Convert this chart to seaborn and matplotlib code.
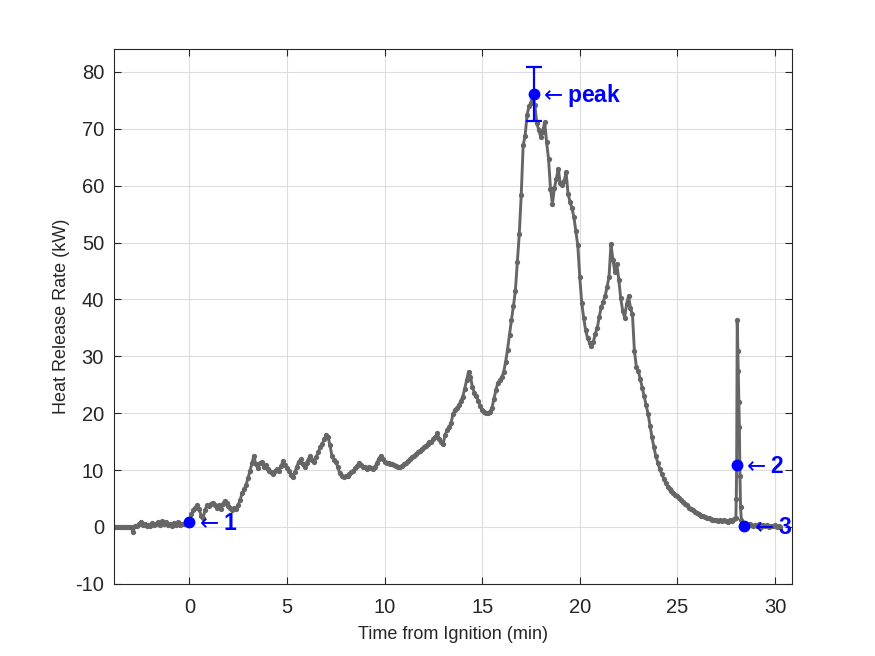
"""
Heat release rate curve from a room burn test, with the event markers
(1 = ignition, peak, 2 = late flare-up, 3 = end) drawn on top.

Saves the figure to out.png.
"""

import matplotlib

matplotlib.use("Agg")
import matplotlib.pyplot as plt
import pandas as pd
import seaborn as sns

PRE_T = [-3.88, -3.8, -3.7, -3.6, -3.5, -3.4, -3.3, -3.2, -3.1, -3.0,
         -2.9, -2.8, -2.7, -2.6, -2.5, -2.4, -2.3, -2.2, -2.1, -2.0,
         -1.9, -1.8, -1.7, -1.6, -1.5, -1.4, -1.3, -1.2, -1.1, -1.0,
         -0.9, -0.8, -0.7, -0.6, -0.5, -0.4, -0.3, -0.2, -0.1, 0.0]
PRE_HRR = [0.0, 0.0, 0.0, 0.0, 0.0, 0.0, 0.0, 0.0, 0.0, 0.0,
           -0.9, 0.2, 0.1, 0.5, 0.9, 0.3, 0.6, 0.1, 0.4, 0.2,
           0.7, 0.3, 0.5, 0.8, 0.4, 1.0, 0.6, 0.9, 0.3, 0.5,
           0.2, 0.7, 0.4, 0.8, 0.3, 0.6, 0.5, 0.8, 0.7, 0.9]

GROWTH_T = [0.1, 0.2, 0.3, 0.4, 0.5, 0.6, 0.7, 0.8, 0.9, 1.0,
            1.1, 1.2, 1.3, 1.4, 1.5, 1.6, 1.7, 1.8, 1.9, 2.0,
            2.1, 2.2, 2.3, 2.4, 2.5, 2.6, 2.7, 2.8, 2.9, 3.0,
            3.1, 3.2, 3.3, 3.4, 3.5, 3.6, 3.7, 3.8, 3.9, 4.0,
            4.1, 4.2, 4.3, 4.4, 4.5, 4.6, 4.7, 4.8, 4.9, 5.0,
            5.1, 5.2, 5.3, 5.4, 5.5, 5.6, 5.7, 5.8, 5.9, 6.0,
            6.1, 6.2, 6.3, 6.4, 6.5, 6.6, 6.7, 6.8, 6.9, 7.0,
            7.1, 7.2, 7.3, 7.4, 7.5, 7.6, 7.7, 7.8, 7.9, 8.0,
            8.1, 8.2, 8.3, 8.4, 8.5, 8.6, 8.7, 8.8, 8.9, 9.0,
            9.1, 9.2, 9.3, 9.4, 9.5, 9.6, 9.7, 9.8, 9.9, 10.0]
GROWTH_HRR = [2.2, 2.9, 3.4, 3.8, 3.1, 2.0, 1.6, 3.0, 3.9, 3.6,
              4.1, 4.3, 3.9, 3.4, 3.8, 3.1, 4.0, 4.6, 4.2, 3.6,
              3.4, 3.0, 3.3, 3.1, 3.9, 4.8, 6.0, 6.6, 7.4, 8.6,
              9.8, 11.2, 12.5, 11.0, 10.4, 11.2, 11.4, 10.6, 10.9, 10.2,
              9.8, 9.6, 9.3, 9.8, 10.2, 9.9, 10.8, 11.6, 10.9, 10.3,
              9.8, 9.2, 8.8, 9.6, 10.6, 11.5, 11.9, 11.0, 10.5, 11.3,
              12.0, 12.5, 11.8, 11.4, 12.3, 13.2, 14.0, 14.6, 15.4, 16.2,
              15.8, 14.4, 12.5, 11.8, 11.4, 10.6, 9.4, 8.9, 8.7, 8.9,
              9.0, 9.3, 9.6, 9.9, 10.3, 10.8, 11.3, 10.9, 10.6, 10.5,
              10.2, 10.6, 10.3, 10.2, 10.5, 11.2, 12.0, 12.5, 11.9, 11.4]

FLASH_T = [10.1, 10.2, 10.3, 10.4, 10.5, 10.6, 10.7, 10.8, 10.9, 11.0,
           11.1, 11.2, 11.3, 11.4, 11.5, 11.6, 11.7, 11.8, 11.9, 12.0,
           12.1, 12.2, 12.3, 12.4, 12.5, 12.6, 12.7, 12.8, 12.9, 13.0,
           13.1, 13.2, 13.3, 13.4, 13.5, 13.6, 13.7, 13.8, 13.9, 14.0,
           14.1, 14.2, 14.3, 14.4, 14.5, 14.6, 14.7, 14.8, 14.9, 15.0,
           15.1, 15.2, 15.3, 15.4, 15.5, 15.6, 15.7, 15.8, 15.9, 16.0,
           16.1, 16.2, 16.3, 16.4, 16.5, 16.6, 16.7, 16.8, 16.9, 17.0,
           17.1, 17.2, 17.3, 17.4, 17.5, 17.6, 17.7, 17.8, 17.9, 18.0,
           18.1, 18.2, 18.3, 18.4, 18.5, 18.6, 18.7, 18.8, 18.9, 19.0,
           19.1, 19.2, 19.3, 19.4, 19.5, 19.6, 19.7, 19.8, 19.9, 20.0]
FLASH_HRR = [11.3, 11.2, 11.0, 11.1, 10.9, 10.8, 10.6, 10.5, 10.8, 11.0,
             11.3, 11.6, 11.9, 12.3, 12.5, 12.8, 13.1, 13.4, 13.7, 14.0,
             14.3, 14.6, 14.9, 15.0, 15.4, 15.8, 16.5, 15.4, 15.0, 14.6,
             16.2, 17.0, 17.6, 18.2, 19.8, 20.6, 20.9, 21.4, 22.1, 22.9,
             24.2, 25.8, 27.3, 26.4, 24.6, 23.6, 23.0, 22.2, 21.3, 20.6,
             20.3, 20.1, 20.0, 20.3, 20.9, 22.5, 24.0, 25.3, 25.8, 26.3,
             27.2, 29.0, 31.2, 33.8, 36.4, 38.8, 41.5, 46.5, 51.5, 58.3,
             67.1, 68.8, 72.4, 74.0, 74.6, 75.8, 74.2, 71.0, 69.8, 68.6,
             69.5, 71.2, 67.7, 64.7, 59.5, 56.8, 59.6, 61.2, 63.0, 60.4,
             60.2, 60.8, 62.4, 58.6, 57.2, 56.0, 54.5, 52.0, 49.5, 44.0]

DECAY_T = [20.1, 20.2, 20.3, 20.4, 20.5, 20.6, 20.7, 20.8, 20.9, 21.0,
           21.1, 21.2, 21.3, 21.4, 21.5, 21.6, 21.7, 21.8, 21.9, 22.0,
           22.1, 22.2, 22.3, 22.4, 22.5, 22.6, 22.7, 22.8, 22.9, 23.0,
           23.1, 23.2, 23.3, 23.4, 23.5, 23.6, 23.7, 23.8, 23.9, 24.0,
           24.1, 24.2, 24.3, 24.4, 24.5, 24.6, 24.7, 24.8, 24.9, 25.0,
           25.1, 25.2, 25.3, 25.4, 25.5, 25.6, 25.7, 25.8, 25.9, 26.0,
           26.1, 26.2, 26.3, 26.4, 26.5, 26.6, 26.7, 26.8, 26.9, 27.0,
           27.1, 27.2, 27.3, 27.4, 27.5, 27.6, 27.7, 27.8, 27.9, 28.0]
DECAY_HRR = [39.4, 36.8, 34.6, 33.2, 32.4, 31.8, 32.6, 34.0, 35.0, 37.0,
             38.6, 39.6, 40.6, 42.2, 44.0, 49.7, 47.0, 44.8, 46.2, 43.5,
             40.2, 38.0, 36.8, 39.2, 40.6, 38.5, 37.4, 31.0, 28.2, 27.4,
             26.0, 24.5, 23.0, 21.4, 19.9, 17.8, 15.8, 14.0, 12.4, 11.3,
             10.2, 9.3, 8.5, 7.8, 7.1, 6.6, 6.3, 6.0, 5.7, 5.5,
             5.1, 4.8, 4.4, 4.1, 3.8, 3.4, 3.1, 2.9, 2.6, 2.4,
             2.2, 2.0, 1.9, 1.8, 1.6, 1.5, 1.4, 1.3, 1.2, 1.2,
             1.1, 1.3, 1.0, 1.2, 1.1, 0.9, 1.2, 1.0, 1.4, 1.6]

SPIKE_T = [28.02, 28.04, 28.07, 28.10, 28.12, 28.15, 28.18, 28.21, 28.24, 28.28]
SPIKE_HRR = [5.0, 10.9, 36.4, 31.0, 27.5, 22.0, 17.5, 9.0, 3.5, 1.2]

TAIL_T = [28.4, 28.5, 28.6, 28.7, 28.8, 28.9, 29.0, 29.1, 29.2, 29.3,
          29.4, 29.5, 29.6, 29.7, 29.8, 29.9, 30.0, 30.1, 30.2, 30.26]
TAIL_HRR = [0.3, 0.5, 0.2, 0.6, 0.3, 0.1, 0.4, 0.2, 0.5, 0.0,
            0.3, 0.1, 0.4, 0.0, 0.2, 0.1, 0.3, 0.0, 0.1, 0.0]

# --- event markers ---
EVENT_T = [0.0, 28.04, 28.43]
EVENT_HRR = [0.9, 10.9, 0.2]
EVENT_LABELS = ["1", "2", "3"]

PEAK_T = 17.65
PEAK_HRR = 76.1
PEAK_ERR = 4.8

X_TICKS = [0, 5, 10, 15, 20, 25, 30]
Y_TICKS = [-10, 0, 10, 20, 30, 40, 50, 60, 70, 80]

LINE_GRAY = "#666666"
MARK_BLUE = "#0000ff"
AXIS_DARK = "#262626"


def build_frame() -> pd.DataFrame:
    t = PRE_T + GROWTH_T + FLASH_T + DECAY_T + SPIKE_T + TAIL_T
    hrr = PRE_HRR + GROWTH_HRR + FLASH_HRR + DECAY_HRR + SPIKE_HRR + TAIL_HRR
    return pd.DataFrame({"time_min": t, "hrr_kw": hrr})


def main() -> None:
    sns.set_theme(style="whitegrid")
    plt.rcParams["font.family"] = ["Liberation Sans", "DejaVu Sans"]
    plt.rcParams["mathtext.fontset"] = "dejavusans"
    plt.rcParams["axes.unicode_minus"] = False

    df = build_frame()

    fig = plt.figure(figsize=(8.75, 6.56), dpi=100)
    fig.patch.set_facecolor("white")
    ax = fig.add_axes([0.13, 0.11, 0.775, 0.815])

    sns.lineplot(
        data=df, x="time_min", y="hrr_kw", sort=False, estimator=None,
        color=LINE_GRAY, linewidth=2.1, marker="o", markersize=3.8,
        markeredgewidth=0, ax=ax,
    )

    # blue event markers with arrow labels
    ax.plot(EVENT_T, EVENT_HRR, "o", color=MARK_BLUE, markersize=7.5, zorder=5)
    for t, v, lab in zip(EVENT_T, EVENT_HRR, EVENT_LABELS):
        ax.annotate(
            r"$\leftarrow$" + lab, xy=(t, v), xytext=(4, -1),
            textcoords="offset points", ha="left", va="center",
            color=MARK_BLUE, fontsize=16.5, fontweight="bold", zorder=6,
        )

    ax.errorbar(
        [PEAK_T], [PEAK_HRR], yerr=[PEAK_ERR], fmt="o", color=MARK_BLUE,
        markersize=7.5, elinewidth=1.6, capsize=6, capthick=1.6, zorder=5,
    )
    ax.annotate(
        r"$\leftarrow$peak", xy=(PEAK_T, PEAK_HRR), xytext=(4, -1),
        textcoords="offset points", ha="left", va="center",
        color=MARK_BLUE, fontsize=16.5, fontweight="bold", zorder=6,
    )

    ax.set_xlim(-3.88, 30.87)
    ax.set_ylim(-10, 84)
    ax.set_xticks(X_TICKS)
    ax.set_yticks(Y_TICKS)

    ax.set_facecolor("white")
    ax.grid(True, color="#dcdcdc", linewidth=0.8)
    ax.set_axisbelow(True)
    for spine in ax.spines.values():
        spine.set_visible(True)
        spine.set_color(AXIS_DARK)
        spine.set_linewidth(0.8)
    ax.tick_params(
        direction="in", top=True, right=True, bottom=True, left=True,
        length=5, width=0.8, color=AXIS_DARK, labelcolor=AXIS_DARK,
        labelsize=14.5, pad=7,
    )
    ax.tick_params(axis="x", pad=10)

    ax.set_xlabel("Time from Ignition (min)", fontsize=13, color=AXIS_DARK,
                  labelpad=7)
    ax.set_ylabel("Heat Release Rate (kW)", fontsize=13, color=AXIS_DARK,
                  labelpad=4)

    fig.savefig("out.png", dpi=100, facecolor="white")
    plt.close(fig)


if __name__ == "__main__":
    main()
